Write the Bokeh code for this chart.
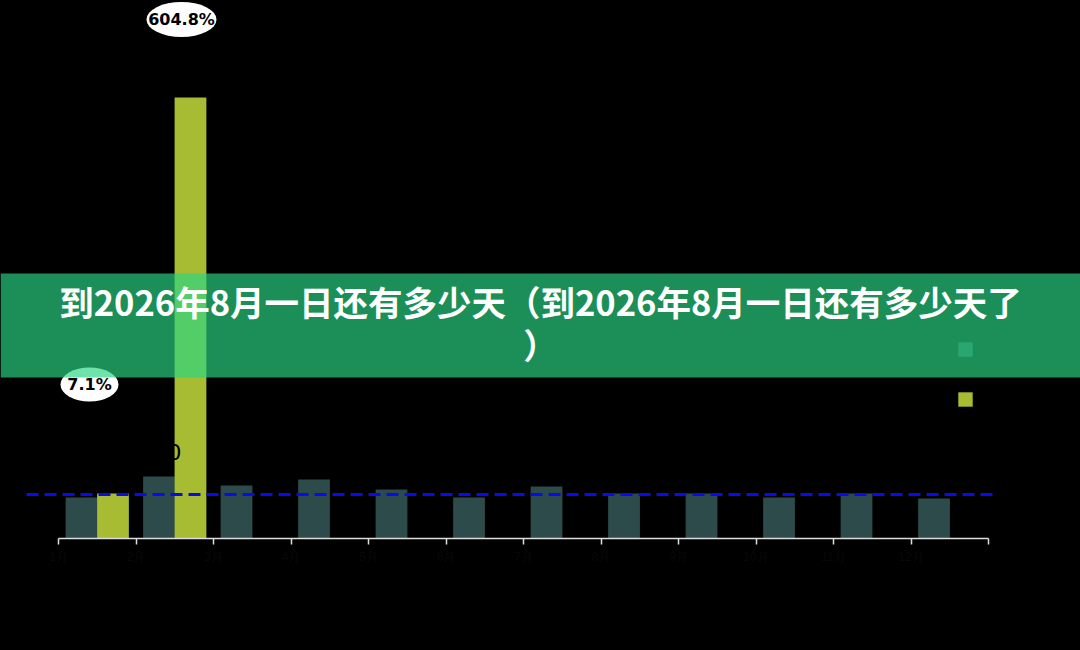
from bokeh.plotting import figure
from bokeh.models import (Range1d, FixedTicker, BoxAnnotation, Label, Legend,
                          LegendItem, GlobalInlineStyleSheet)
from bokeh.embed import file_html
from bokeh.resources import INLINE
from bokeh.core.properties import value

# ---------------- data ----------------
categories = ["1月", "2月", "3月", "4月", "5月", "6月",
              "7月", "8月", "9月", "10月", "11月", "12月"]
series_names = ["天数", "增长率"]
days = [41, 62, 53, 59, 49, 41, 52, 45, 45, 41, 45, 40]
growth = [45, 441, 0, 0, 0, 0, 0, 0, 0, 0, 0, 0]
average_value = 44
point_labels = ["7.1%", "604.8%"]
point_x = [0.40, 1.587]
point_y = [154, 519]
point_w = [58, 70]
point_h = [34, 35]
extra_label = ["100"]
extra_x = [1.587]
extra_y = [87]
title_text = "到2026年8月一日还有多少天（到2026年8月一日还有多少天了\n）"

# ---------------- styles ----------------
DARK = "#2d4b4a"
YELLOW = "#a8bc33"
BANNER_RGB = (40, 213, 130)
BANNER_ALPHA = 0.67


def under_banner(hex_color):
    """Colour of a mark seen through the translucent banner."""
    h = hex_color.lstrip("#")
    rgb = [int(h[i:i + 2], 16) for i in (0, 2, 4)]
    mixed = [round(BANNER_ALPHA * b + (1 - BANNER_ALPHA) * c)
             for b, c in zip(BANNER_RGB, rgb)]
    return "#%02x%02x%02x" % tuple(mixed)


# ---------------- layout ----------------
W, H = 1080, 650
PX_PER_UNIT = 77.5
AXIS_LEFT_PX = 58
FRAME_BOTTOM = 538
x_start = -AXIS_LEFT_PX / PX_PER_UNIT
x_end = x_start + W / PX_PER_UNIT
BAR_W = 0.41
BAR_OFF = 0.203
MARK_X0 = (26 - AXIS_LEFT_PX) / PX_PER_UNIT
MARK_X1 = (992 - AXIS_LEFT_PX) / PX_PER_UNIT
SWATCH = 18            # legend glyph box (drawn swatch is 80% of it)
INSET = 2

p = figure(width=W, height=H, output_backend="svg", toolbar_location=None,
           x_range=Range1d(x_start, x_end), y_range=Range1d(0, FRAME_BOTTOM),
           y_axis_location=None,
           min_border_left=0, min_border_right=0, min_border_top=0,
           min_border_bottom=H - FRAME_BOTTOM,
           background_fill_color="black", border_fill_color="black",
           outline_line_color=None)
p.stylesheets = [GlobalInlineStyleSheet(
    css="html,body{margin:0;padding:0;background:#000;overflow:hidden;}")]
p.grid.visible = False

ax = p.xaxis[0]
ax.ticker = FixedTicker(ticks=list(range(len(categories) + 1)))
ax.bounds = (0, len(categories))
overrides = {i: c for i, c in enumerate(categories)}
overrides[len(categories)] = ""
ax.major_label_overrides = overrides
ax.major_label_text_color = "#080808"
ax.major_label_text_font_size = "12px"
ax.axis_line_color = "#dddddd"
ax.axis_line_width = 1.5
ax.major_tick_line_color = "#dddddd"
ax.major_tick_line_width = 1.5
ax.major_tick_out = 6
ax.major_tick_in = 0
ax.minor_tick_line_color = None

idx = list(range(len(categories)))
r1 = p.vbar(x=[i + 0.5 - BAR_OFF for i in idx], top=days, width=BAR_W,
            fill_color=DARK, line_color=None)
r2 = p.vbar(x=[i + 0.5 + BAR_OFF for i in idx], top=growth, width=BAR_W,
            fill_color=YELLOW, line_color=None)

# legend swatches (zero-height bars): the first one sits beneath the banner
lg1 = p.vbar(x=[0.5], top=[0], width=BAR_W, fill_color=under_banner(DARK),
             line_color=None)
lg2 = p.vbar(x=[0.5], top=[0], width=BAR_W, fill_color=YELLOW,
             line_color=None)

p.line(x=[MARK_X0, MARK_X1], y=[average_value, average_value],
       line_color="#0a0af0", line_width=3, line_dash="12 6")

p.ellipse(x=point_x, y=point_y, width=point_w, height=point_h,
          width_units="screen", height_units="screen",
          fill_color="white", line_color=None)
p.text(x=point_x, y=point_y, text=point_labels, text_align="center",
       text_baseline="middle", text_font=value("DejaVu Sans"),
       text_font_style="bold", text_font_size="16px", text_color="black")

p.text(x=extra_x, y=extra_y, text=extra_label, text_align="right",
       text_baseline="middle", text_font=value("DejaVu Sans"),
       text_font_size="22px", text_color="black")

legend = Legend(items=[LegendItem(label=series_names[0], renderers=[lg1]),
                       LegendItem(label=series_names[1], renderers=[lg2])],
                location=(958 - INSET, FRAME_BOTTOM - 406 - INSET),
                orientation="vertical",
                glyph_width=SWATCH, glyph_height=SWATCH, label_height=SWATCH,
                spacing=50 - SWATCH, padding=0, margin=0,
                background_fill_alpha=0, border_line_color=None,
                label_text_color="black", label_text_alpha=0,
                label_text_font_size="11px")
p.add_layout(legend)

banner = BoxAnnotation(bottom=FRAME_BOTTOM - 377, top=FRAME_BOTTOM - 273,
                       fill_color=BANNER_RGB, fill_alpha=BANNER_ALPHA,
                       line_color=None, level="overlay")
p.add_layout(banner)

title = Label(x=(x_start + x_end) / 2, y=FRAME_BOTTOM - 322, text=title_text,
              text_align="center", text_baseline="middle",
              text_color="white", text_font_size="34.5px",
              text_font="Noto Sans CJK SC", text_font_style="bold",
              text_line_height=0.85, level="overlay")
p.add_layout(title)

open("out.html", "w").write(file_html(p, INLINE))
